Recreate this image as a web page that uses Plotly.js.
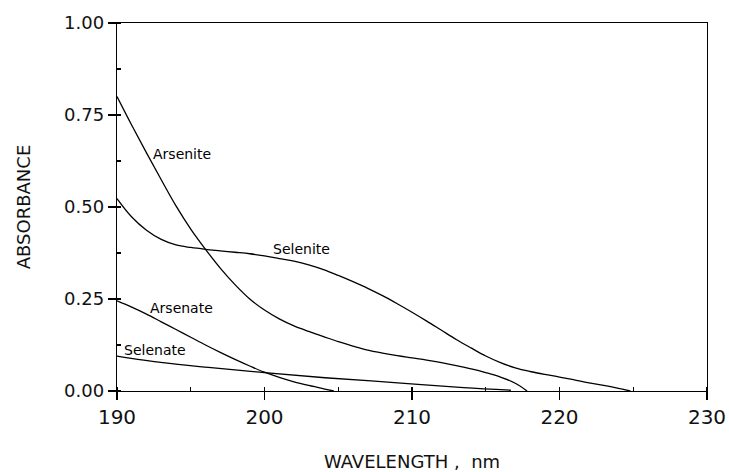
<!DOCTYPE html>
<html>
<head>
<meta charset="utf-8">
<script src="https://cdn.plot.ly/plotly-3.0.1.min.js"></script>
<style>html,body{margin:0;padding:0;background:#fff;}#chart{width:729px;height:472px;}</style>
</head>
<body>
<div id="chart"></div>
<script>
// Wavelength (nm) and absorbance values
var arseniteX = [190, 191, 192, 193, 194, 195, 196, 197, 198, 199, 200, 201, 202, 203, 204, 205, 206, 207, 208, 209, 210, 211, 212, 213, 214, 215, 216, 217, 217.8];
var arseniteY = [0.80, 0.722, 0.647, 0.574, 0.503, 0.440, 0.385, 0.334, 0.289, 0.250, 0.220, 0.196, 0.177, 0.162, 0.148, 0.134, 0.122, 0.111, 0.103, 0.096, 0.090, 0.084, 0.077, 0.069, 0.060, 0.050, 0.038, 0.021, 0.0];

var seleniteX = [190, 191, 192, 193, 194, 195, 196, 197, 198, 199, 200, 201, 202, 203, 204, 205, 206, 207, 208, 209, 210, 211, 212, 213, 214, 215, 216, 217, 218, 219, 220, 221, 222, 223, 224, 224.8];
var seleniteY = [0.523, 0.473, 0.437, 0.412, 0.397, 0.390, 0.385, 0.381, 0.377, 0.373, 0.367, 0.360, 0.353, 0.343, 0.330, 0.314, 0.297, 0.279, 0.259, 0.237, 0.214, 0.190, 0.165, 0.140, 0.117, 0.095, 0.077, 0.063, 0.053, 0.045, 0.038, 0.030, 0.022, 0.015, 0.007, 0.0];

var arsenateX = [190, 191, 192, 193, 194, 195, 196, 197, 198, 199, 200, 201, 202, 203, 204, 204.7];
var arsenateY = [0.245, 0.228, 0.209, 0.188, 0.167, 0.146, 0.125, 0.105, 0.086, 0.068, 0.051, 0.037, 0.025, 0.015, 0.006, 0.0];

var selenateX = [190, 193.1, 196.2, 200.0, 204.1, 208.8, 213.5, 216.7];
var selenateY = [0.095, 0.077, 0.064, 0.05, 0.036, 0.023, 0.009, 0.002];

var seriesNames = ["Arsenite", "Selenite", "Arsenate", "Selenate"];
var labelX = [194.4, 202.5, 194.4, 192.55];
var labelY = [0.645, 0.386, 0.225, 0.111];

var xTicks = [190, 200, 210, 220, 230];
var yTicks = [0, 0.25, 0.5, 0.75, 1.0];
var yTickText = ["0.00", "0.25", "0.50", "0.75", "1.00"];

var FONT = "DejaVu Sans, Verdana, sans-serif";
var lineStyle = {color: "#000", width: 1.3, shape: "spline", smoothing: 1.0, simplify: false};
var xs = [arseniteX, seleniteX, arsenateX, selenateX];
var ys = [arseniteY, seleniteY, arsenateY, selenateY];
var traces = seriesNames.map(function (n, i) {
  return {x: xs[i], y: ys[i], name: n, mode: "lines", line: lineStyle, hoverinfo: "skip"};
});

var annotations = seriesNames.map(function (n, i) {
  return {x: labelX[i], y: labelY[i], xref: "x", yref: "y", text: n, showarrow: false,
          font: {family: FONT, size: 14, color: "#000"}};
});

var layout = {
  width: 729, height: 472,
  margin: {l: 117, r: 22, t: 23, b: 81},
  paper_bgcolor: "#fff", plot_bgcolor: "#fff",
  showlegend: false,
  font: {family: FONT, color: "#111"},
  xaxis: {
    range: [190, 230], tickvals: xTicks, ticktext: xTicks.map(String),
    showgrid: false, zeroline: false,
    showline: true, linecolor: "#000", linewidth: 1.3, mirror: true,
    ticks: "outside", ticklen: 8, tickwidth: 1.3, tickcolor: "#000",
    tickfont: {size: 20},
    minor: {ticks: "inside", dtick: 5, tick0: 190, ticklen: 4, tickwidth: 1.2, tickcolor: "#000", showgrid: false},
    title: {text: "WAVELENGTH ,  nm", font: {size: 18}, standoff: 30}
  },
  yaxis: {
    range: [0, 1], tickvals: yTicks, ticktext: yTickText,
    showgrid: false, zeroline: false,
    showline: true, linecolor: "#000", linewidth: 1.3, mirror: true,
    ticks: "outside", ticklen: 8, tickwidth: 1.3, tickcolor: "#000",
    tickfont: {size: 18},
    minor: {ticks: "inside", dtick: 0.125, tick0: 0, ticklen: 4, tickwidth: 1.2, tickcolor: "#000", showgrid: false},
    title: {text: "ABSORBANCE", font: {size: 18}, standoff: 28}
  },
  annotations: annotations
};

Plotly.newPlot("chart", traces, layout, {displayModeBar: false, staticPlot: true});
</script>
</body>
</html>
